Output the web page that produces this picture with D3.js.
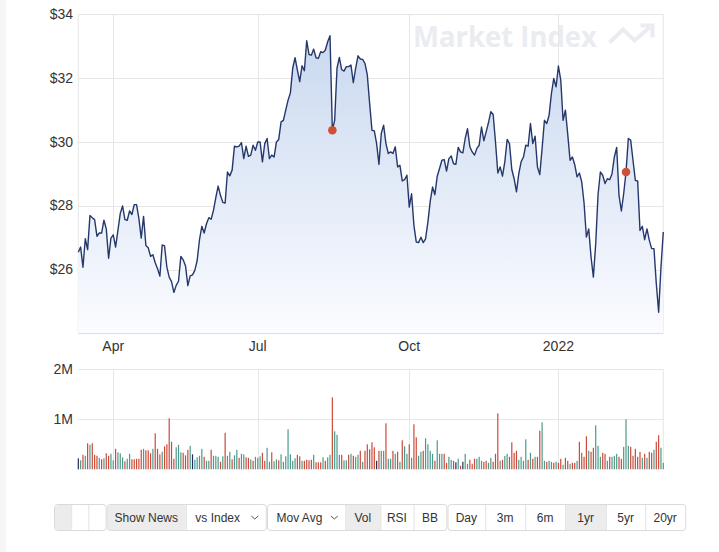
<!DOCTYPE html>
<meta charset="utf-8" />
<style>
  body { margin: 0; background: #f6f6f7; }
  svg { display: block; font-family: "Liberation Sans", Arial, sans-serif; }
</style>
<body>
  <!-- load the d3.js library -->
  <script src="https://d3js.org/d3.v7.min.js"></script>
  <script>
    // daily closes, one per trading day (ordinal x axis)
    const prices = [
      26.55, 26.71, 26.08, 26.97, 26.63, 27.70, 27.63, 27.57, 27.05, 27.15,
      27.15, 27.55, 27.28, 26.36, 26.99, 27.09, 26.71, 27.23, 27.76, 28.00,
      27.57, 27.55, 27.84, 27.73, 28.04, 28.04, 27.60, 26.99, 27.67, 26.76,
      26.69, 26.42, 26.47, 26.22, 26.03, 25.80, 26.78, 26.75, 26.08, 25.77,
      25.63, 25.29, 25.51, 25.64, 26.42, 26.31, 26.12, 25.50, 25.81, 25.84,
      25.98, 26.29, 26.94, 27.36, 27.15, 27.44, 27.63, 27.58, 27.86, 28.26,
      28.62, 28.33, 28.11, 28.09, 29.06, 28.94, 29.12, 29.87, 29.85, 29.87,
      29.98, 29.48, 29.87, 29.55, 29.59, 29.90, 29.74, 30.00, 30.00, 29.38,
      29.95, 30.11, 29.48, 29.59, 29.53, 30.00, 30.08, 30.63, 30.68, 31.00,
      31.31, 31.54, 32.31, 32.64, 32.25, 31.89, 32.39, 32.23, 33.17, 32.74,
      32.72, 32.91, 32.64, 32.62, 32.83, 32.80, 32.88, 33.14, 33.33, 30.37,
      30.68, 32.31, 32.65, 32.27, 32.22, 32.36, 32.36, 32.41, 31.86, 32.31,
      32.70, 32.60, 32.59, 32.46, 32.10, 31.21, 30.37, 30.35, 29.95, 29.30,
      30.27, 30.53, 29.95, 29.64, 29.69, 29.64, 29.85, 29.22, 29.27, 28.78,
      28.82, 28.96, 27.96, 28.38, 27.39, 26.87, 26.85, 27.02, 26.85, 26.97,
      27.49, 28.15, 28.59, 28.35, 28.93, 29.17, 29.43, 29.45, 29.09, 29.48,
      29.56, 29.32, 29.30, 29.83, 29.69, 29.66, 30.11, 30.42, 29.85, 29.69,
      29.59, 29.80, 29.90, 30.47, 30.04, 30.32, 30.61, 30.95, 30.86, 30.00,
      29.03, 29.22, 28.93, 29.38, 30.08, 29.95, 29.14, 28.85, 28.44, 29.01,
      29.38, 29.53, 29.90, 29.87, 30.58, 29.95, 30.18, 29.22, 28.98, 29.80,
      30.68, 30.58, 30.84, 31.52, 31.99, 31.73, 32.38, 31.94, 30.68, 31.00,
      30.24, 29.43, 29.53, 29.29, 28.91, 29.03, 28.75, 28.09, 27.02, 27.28,
      26.40, 25.77, 26.81, 28.35, 29.06, 28.96, 28.70, 28.85, 28.82, 29.01,
      29.53, 29.83, 28.33, 27.84, 28.38, 29.06, 30.11, 30.06, 29.43, 28.80,
      28.78, 27.23, 27.36, 26.94, 27.28, 26.92, 26.66, 26.66, 25.56, 24.67,
      26.08, 27.18
    ];

    // daily volume, millions of shares
    const volumes = [
      0.22, 0.18, 0.29, 0.27, 0.52, 0.49, 0.52, 0.29, 0.27, 0.23,
      0.20, 0.22, 0.32, 0.27, 0.31, 0.18, 0.41, 0.34, 0.32, 0.24,
      0.16, 0.21, 0.31, 0.20, 0.20, 0.21, 0.21, 0.39, 0.41, 0.38,
      0.38, 0.32, 0.41, 0.72, 0.41, 0.30, 0.35, 0.46, 0.50, 1.02,
      0.55, 0.21, 0.44, 0.49, 0.34, 0.33, 0.28, 0.39, 0.47, 0.30,
      0.19, 0.24, 0.27, 0.41, 0.25, 0.17, 0.17, 0.39, 0.27, 0.27,
      0.25, 0.15, 0.26, 0.73, 0.27, 0.35, 0.20, 0.28, 0.39, 0.23,
      0.31, 0.30, 0.24, 0.23, 0.20, 0.17, 0.25, 0.23, 0.26, 0.33,
      0.17, 0.43, 0.15, 0.34, 0.16, 0.20, 0.18, 0.30, 0.15, 0.26,
      0.80, 0.30, 0.17, 0.22, 0.29, 0.26, 0.17, 0.17, 0.19, 0.18,
      0.19, 0.29, 0.14, 0.14, 0.14, 0.24, 0.17, 0.24, 0.29, 1.44,
      0.76, 0.69, 0.29, 0.29, 0.18, 0.18, 0.29, 0.31, 0.27, 0.25,
      0.29, 0.37, 0.15, 0.37, 0.50, 0.40, 0.54, 0.44, 0.17, 0.37,
      0.37, 0.37, 0.92, 0.21, 0.21, 0.37, 0.31, 0.35, 0.15, 0.58,
      0.46, 0.31, 0.50, 0.23, 0.90, 0.64, 0.27, 0.35, 0.37, 0.62,
      0.50, 0.37, 0.31, 0.17, 0.58, 0.31, 0.31, 0.31, 0.13, 0.25,
      0.19, 0.17, 0.14, 0.21, 0.07, 0.15, 0.31, 0.11, 0.19, 0.11,
      0.21, 0.21, 0.25, 0.17, 0.15, 0.17, 0.13, 0.23, 0.15, 0.31,
      1.12, 0.17, 0.19, 0.27, 0.31, 0.25, 0.54, 0.33, 0.37, 0.19,
      0.25, 0.17, 0.60, 0.19, 0.33, 0.21, 0.25, 0.25, 0.77, 0.94,
      0.17, 0.15, 0.17, 0.15, 0.13, 0.15, 0.13, 0.21, 0.09, 0.23,
      0.17, 0.11, 0.13, 0.13, 0.17, 0.55, 0.33, 0.25, 0.66, 0.37,
      0.35, 0.43, 0.88, 0.47, 0.25, 0.33, 0.31, 0.17, 0.25, 0.25,
      0.27, 0.31, 0.25, 0.21, 0.45, 1.00, 0.47, 0.45, 0.27, 0.41,
      0.25, 0.35, 0.23, 0.31, 0.23, 0.35, 0.33, 0.39, 0.55, 0.68,
      0.43, 0.13
    ];

    // bar direction: u = up, d = down, n = unchanged
    const volDir = (
      "nudududddu" + "dudduuduuu" + "duudddddud" + "dduddduddd" + "dduuudddun" +
      "uuuuduuduu" + "ududuuduud" + "uudduduuud" + "duuduuduuu" + "uuuudduddd" +
      "duddduduud" + "uuuduududu" + "ududddddnd" + "uuduududud" + "uududduudu" +
      "uuuduuuddu" + "udnudnuudd" + "duuudduudd" + "duduuddddu" + "uuudududdu" +
      "uduududdud" + "dudduddddu" + "dduuuddudu" + "uudduuuddd" + "ddududdudd" +
      "uu"
    ).split("");

    const newsIdx = [109, 235];

    const xTickIdx = [15, 77, 142, 206];
    const xTickLabels = ["Apr", "Jul", "Oct", "2022"];
    const priceTicks = [26, 28, 30, 32, 34];
    const volTicks = [1, 2];

    const toolbarGroups = [
      ["", "", ""],
      ["Show News", "vs Index"],
      ["Mov Avg", "Vol", "RSI", "BB"],
      ["Day", "3m", "6m", "1yr", "5yr", "20yr"]
    ];
    const toolbarActive = ["Show News", "Vol", "1yr"];
    const toolbarDropdown = ["vs Index", "Mov Avg"];

    // layout
    const W = 719, H = 552;
    const plotL = 78.3, plotR = 663.3;
    const priceTop = 14.3, priceBot = 333.6;
    const volTop = 369.3, volBot = 469.3;

    const svg = d3.select("body").append("svg").attr("width", W).attr("height", H);

    svg.append("rect").attr("x", 6).attr("y", 0).attr("width", W - 6).attr("height", H).attr("fill", "#fff");

    const x = d3.scaleLinear().domain([0, prices.length - 1]).range([plotL, plotR]);
    const y = d3.scaleLinear().domain([24, 34]).range([priceBot, priceTop]);
    const yv = d3.scaleLinear().domain([0, 2]).range([volBot, volTop]);

    const grid = "#e6e6e6";

    // watermark
    const wm = svg.append("g").attr("fill", "#eaecf1").attr("stroke", "#eaecf1");
    wm.append("text")
      .attr("x", 413).attr("y", 47)
      .attr("stroke", "none")
      .attr("font-family", "'Open Sans', sans-serif")
      .attr("font-weight", 700)
      .attr("font-size", 29)
      .attr("textLength", 184)
      .attr("lengthAdjust", "spacingAndGlyphs")
      .text("Market Index");
    wm.append("polyline")
      .attr("points", "609.5,42.5 623,29.5 634.5,40.5 650,27")
      .attr("fill", "none").attr("stroke-width", 4).attr("stroke-linejoin", "miter");
    wm.append("polyline")
      .attr("points", "640.5,25.5 652.5,25.5 652.5,37.5")
      .attr("fill", "none").attr("stroke-width", 4);

    // price grid
    const g = svg.append("g");
    g.selectAll(".hy").data(priceTicks).join("line")
      .attr("x1", plotL).attr("x2", plotR)
      .attr("y1", d => Math.round(y(d)) + 0.5).attr("y2", d => Math.round(y(d)) + 0.5)
      .attr("stroke", grid);
    g.selectAll(".vx").data(xTickIdx).join("line")
      .attr("x1", d => Math.round(x(d)) + 0.5).attr("x2", d => Math.round(x(d)) + 0.5)
      .attr("y1", priceTop).attr("y2", priceBot)
      .attr("stroke", grid);
    g.append("line").attr("x1", plotL).attr("x2", plotL).attr("y1", priceTop).attr("y2", priceBot).attr("stroke", grid);
    g.append("line").attr("x1", plotR).attr("x2", plotR).attr("y1", priceTop).attr("y2", priceBot).attr("stroke", grid);

    // area + line
    const grad = svg.append("defs").append("linearGradient")
      .attr("id", "fillGrad").attr("gradientUnits", "userSpaceOnUse")
      .attr("x1", 0).attr("x2", 0).attr("y1", priceTop).attr("y2", priceBot);
    grad.append("stop").attr("offset", 0).attr("stop-color", "#c6d6ee");
    grad.append("stop").attr("offset", 1).attr("stop-color", "#fbfcff");

    const area = d3.area().x((d, i) => x(i)).y0(priceBot).y1(d => y(d));
    const line = d3.line().x((d, i) => x(i)).y(d => y(d));

    svg.append("path").datum(prices).attr("d", area).attr("fill", "url(#fillGrad)");
    svg.append("line").attr("x1", plotL).attr("x2", plotR).attr("y1", priceBot).attr("y2", priceBot).attr("stroke", "#d8dde6");
    svg.append("path").datum(prices).attr("d", line)
      .attr("fill", "none").attr("stroke", "#26386b").attr("stroke-width", 1.4).attr("stroke-linejoin", "round");

    svg.selectAll(".news").data(newsIdx).join("circle")
      .attr("cx", d => x(d)).attr("cy", d => y(prices[d]))
      .attr("r", 4.3).attr("fill", "#cd5136");

    // axis labels
    svg.selectAll(".ylab").data(priceTicks).join("text")
      .attr("x", 73).attr("y", d => y(d) + 4.5)
      .attr("text-anchor", "end").attr("font-size", 14).attr("fill", "#333")
      .text(d => "$" + d);
    svg.selectAll(".xlab").data(xTickIdx).join("text")
      .attr("x", d => x(d)).attr("y", 350.5)
      .attr("text-anchor", "middle").attr("font-size", 14).attr("fill", "#333")
      .text((d, i) => xTickLabels[i]);

    // volume panel
    const vg = svg.append("g");
    vg.selectAll(".hv").data(volTicks).join("line")
      .attr("x1", plotL).attr("x2", plotR)
      .attr("y1", d => Math.round(yv(d)) + 0.5).attr("y2", d => Math.round(yv(d)) + 0.5)
      .attr("stroke", grid);
    vg.selectAll(".vv").data(xTickIdx).join("line")
      .attr("x1", d => Math.round(x(d)) + 0.5).attr("x2", d => Math.round(x(d)) + 0.5)
      .attr("y1", volTop).attr("y2", volBot)
      .attr("stroke", grid);
    vg.append("line").attr("x1", plotR).attr("x2", plotR).attr("y1", volTop).attr("y2", volBot).attr("stroke", grid);
    vg.selectAll(".vlab").data(volTicks).join("text")
      .attr("x", 73).attr("y", d => yv(d) + 4.5)
      .attr("text-anchor", "end").attr("font-size", 14).attr("fill", "#333")
      .text(d => d + "M");

    const barColor = { u: "#4d9a8b", d: "#cc4a3a", n: "#1f2c5e" };
    vg.selectAll(".bar").data(volumes).join("rect")
      .attr("x", (d, i) => x(i) - 0.6)
      .attr("width", 1.2)
      .attr("y", d => yv(d))
      .attr("height", d => volBot - yv(d))
      .attr("fill", (d, i) => barColor[volDir[i]]);

    // toolbar
    const btnW = {
      "": 17.2, "Show News": 79, "vs Index": 80, "Mov Avg": 78.3, "Vol": 35,
      "RSI": 33.3, "BB": 32.7, "Day": 37.7, "3m": 40, "6m": 40, "1yr": 40.7,
      "5yr": 39.3, "20yr": 40
    };
    const tb = svg.append("g").attr("font-size", 12).attr("fill", "#333");
    let bx = 54;
    const by = 504, bh = 26;
    toolbarGroups.forEach((grp, gi) => {
      const gx = bx;
      const gw = d3.sum(grp, l => btnW[l]);
      tb.append("rect").attr("x", gx + 0.5).attr("y", by + 0.5).attr("width", gw).attr("height", bh)
        .attr("rx", 3).attr("fill", "#fff").attr("stroke", "#dadada");
      grp.forEach((lab, li) => {
        const w = btnW[lab];
        const active = (gi === 0 && li === 0) || (lab !== "" && toolbarActive.includes(lab));
        if (active) {
          tb.append("rect").attr("x", bx + 1).attr("y", by + 1).attr("width", w - 1).attr("height", bh - 1)
            .attr("rx", li === 0 ? 2 : 0).attr("fill", "#ececec");
        }
        if (li > 0) {
          tb.append("line").attr("x1", bx + 0.5).attr("x2", bx + 0.5).attr("y1", by + 1).attr("y2", by + bh)
            .attr("stroke", "#e2e2e2");
        }
        if (toolbarDropdown.includes(lab)) {
          tb.append("text").attr("x", bx + 9.5).attr("y", by + 17.5).attr("fill", "#333").text(lab);
          tb.append("polyline")
            .attr("points", `${bx + w - 14.5},${by + 12} ${bx + w - 11},${by + 15} ${bx + w - 7.5},${by + 12}`)
            .attr("fill", "none").attr("stroke", "#555").attr("stroke-width", 1);
        } else if (lab) {
          tb.append("text").attr("x", bx + w / 2).attr("y", by + 17.5).attr("text-anchor", "middle").text(lab);
        }
        bx += w;
      });
      bx += 1.2;
    });
  </script>
</body>
